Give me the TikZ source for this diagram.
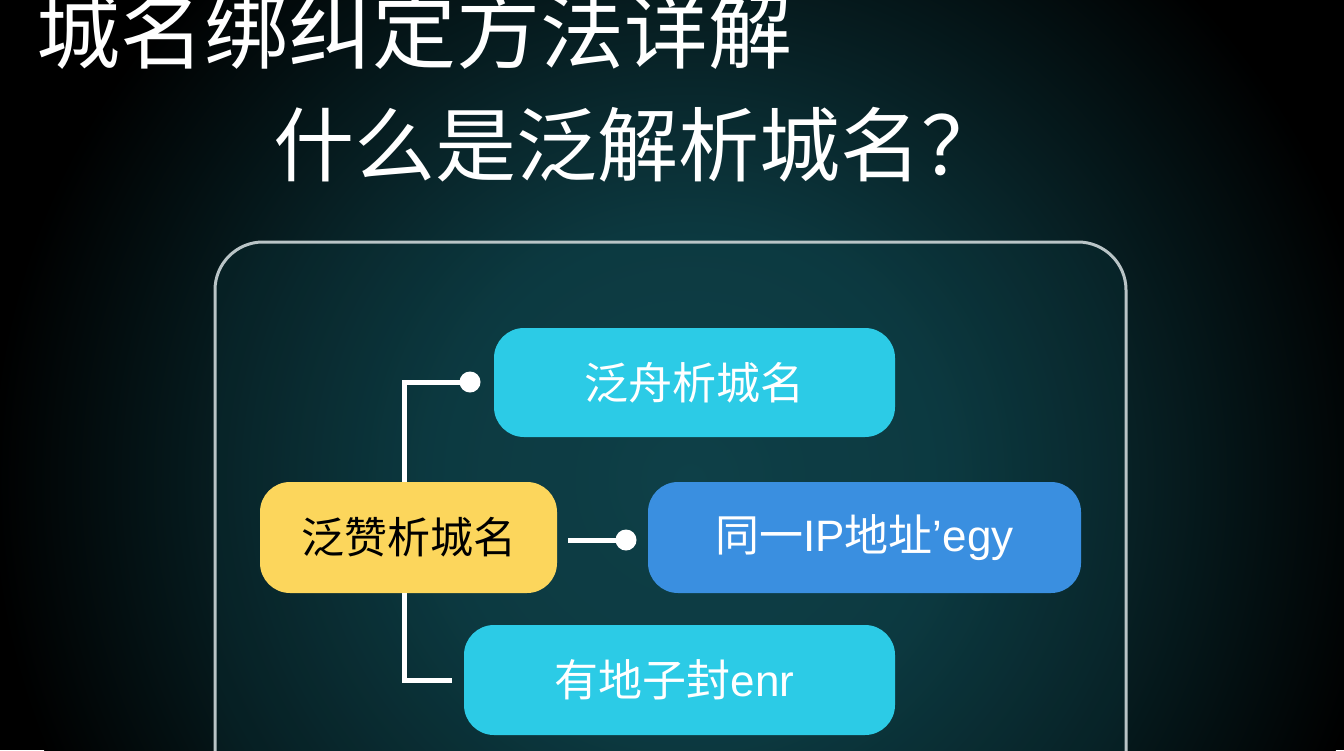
\documentclass[tikz,border=0pt]{standalone}
\usepackage{fontspec}
\setmainfont{Noto Sans CJK SC}
\newfontfamily\cjk{Noto Sans CJK SC}
\newfontfamily\lat{Liberation Sans}
\definecolor{glowc}{RGB}{14,64,72}
\definecolor{cyanbox}{RGB}{44,203,230}
\definecolor{yelbox}{RGB}{252,214,92}
\definecolor{bluebox}{RGB}{58,143,224}
\definecolor{framec}{RGB}{185,196,198}
\pgfdeclareradialshading{glow}{\pgfpoint{0bp}{0bp}}{color(0bp)=(glowc); color(9bp)=(glowc!88!black); color(25bp)=(black); color(50bp)=(black)}
\begin{document}
\begin{tikzpicture}[x=1pt,y=-1pt,
  titletext/.style={text=white, inner sep=0pt, anchor=base west},
  boxbase/.style={rounded corners=30pt, inner sep=0pt, font=\cjk\fontsize{44}{44}\selectfont},
  cyanstyle/.style={boxbase, fill=cyanbox, text=white},
  yelstyle/.style={boxbase, fill=yelbox, text=black},
  bluestyle/.style={boxbase, fill=bluebox, text=white},
  conn/.style={draw=white, line width=5pt},
  dotc/.style={circle, fill=white, inner sep=0pt, minimum size=21pt},
  frame/.style={draw=framec, line width=3pt, rounded corners=48pt, fill=glowc, fill opacity=0.2}
]
\clip (0,0) rectangle (1344,750);
\fill[black] (0,0) rectangle (1344,750);
\shade[shading=glow] (690,480) circle [radius=700pt];

% titles
\node[titletext, font=\cjk\fontsize{84}{84}\selectfont] (t1) at (36,62) {城名绑纠定方法详解};
\node[titletext, font=\cjk\fontsize{81}{81}\selectfont] (t2) at (273,175) {什么是泛解析城名？};

% frame
\path[frame] (215,242) rectangle (1126,820);

% boxes
\node[cyanstyle, minimum width=401pt, minimum height=109pt] (top) at (694.5,382.5) {泛舟析城名};
\node[yelstyle, minimum width=297pt, minimum height=111pt, font=\cjk\fontsize{43}{43}\selectfont] (yel) at (408.5,537.5) {泛赞析城名};
\node[bluestyle, minimum width=433pt, minimum height=111pt] (blu) at (864.5,537.5) {同一{\lat IP}地址{\lat ’egy}};
\node[cyanstyle, minimum width=431pt, minimum height=110pt] (bot) at (679.5,680) {\hspace*{-10pt}有地子封{\lat enr}};

% connectors
\coordinate (vx) at (404,0);
\node[dotc] (d1) at (470,382) {};
\node[dotc] (d2) at (626,540) {};
\coordinate (e3) at (452,680);
\draw[conn] (yel.north -| vx) |- (d1.center);
\draw[conn] (yel.south -| vx) |- (e3);
\draw[conn] ([xshift=11pt]yel.east |- d2.center) -- (d2.center);
\end{tikzpicture}
\end{document}
